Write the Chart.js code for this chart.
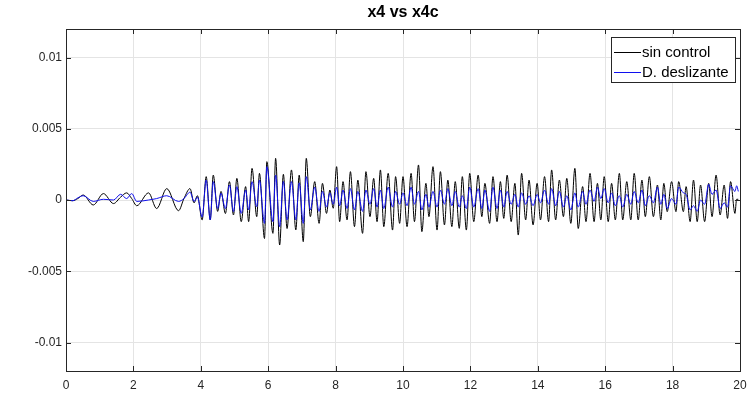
<!DOCTYPE html>
<html>
<head>
<meta charset="utf-8">
<script src="https://cdn.jsdelivr.net/npm/chart.js@4.4.1/dist/chart.umd.min.js"></script>
<style>
  html, body { margin: 0; padding: 0; background: #fff; }
  #wrap { width: 755px; height: 401px; position: relative; }
</style>
</head>
<body>
<div id="wrap"><canvas id="grafico"></canvas></div>
<script>
//datos
const tiempo = [
  0, 0.2, 0.35, 0.51, 0.81, 1.11, 1.41, 1.62, 1.80, 1.95,
  2.10, 2.45, 2.69, 2.99, 3.34, 3.50, 3.68, 3.80, 3.90,
  4.04, 4.16, 4.28, 4.37, 4.50, 4.60, 4.73, 4.85,
  4.97, 5.07, 5.20, 5.33, 5.42, 5.52, 5.66, 5.74,
  5.89, 5.96, 6.14, 6.22, 6.34, 6.45, 6.56, 6.69,
  6.82, 6.92, 7.04, 7.13, 7.25, 7.38, 7.51, 7.61,
  7.73, 7.83, 7.93, 8.03, 8.12, 8.22, 8.34, 8.44,
  8.56, 8.66, 8.80, 8.90, 9.02, 9.13, 9.23, 9.33,
  9.43, 9.56, 9.69, 9.78, 9.90, 10.00, 10.12, 10.24,
  10.34, 10.46, 10.56, 10.68, 10.77, 10.89, 11.01, 11.11,
  11.23, 11.33, 11.45, 11.55, 11.67, 11.76, 11.88, 11.98,
  12.10, 12.23, 12.34, 12.43, 12.57, 12.67, 12.79, 12.89,
  12.99, 13.09, 13.21, 13.32, 13.42, 13.52, 13.64, 13.74,
  13.86, 13.98, 14.08, 14.20, 14.32, 14.41, 14.53, 14.64,
  14.76, 14.86, 14.98, 15.10, 15.20, 15.33, 15.43, 15.55,
  15.67, 15.77, 15.87, 15.97, 16.09, 16.19, 16.30, 16.42,
  16.52, 16.64, 16.76, 16.86, 16.98, 17.09, 17.19, 17.31,
  17.43, 17.55, 17.65, 17.74, 17.84, 17.97, 18.10, 18.18,
  18.32, 18.40, 18.52, 18.62, 18.73, 18.83, 18.95, 19.07,
  19.17, 19.29, 19.41, 19.53, 19.63, 19.72, 19.85, 19.90,
  19.95
];

const sinControl = [
  0, -0.00005, 0.0001, 0.00035, -0.00035, 0.00045, -0.00025, 0.0002, 0.0005, 0.0001,
  -0.0004, 0.0005, -0.0006, 0.0008, -0.00075, 0.0001, 0.0008, -0.0002, 0.0003,
  -0.0014, 0.00164, -0.0014, 0.00175, -0.0008, 0.0006, -0.00095, 0.00129,
  -0.00105, 0.00152, -0.00152, 0.00094, -0.00152, 0.00222, -0.00117, 0.00187,
  -0.0027, 0.00269, -0.00234, 0.00292, -0.00316, 0.0018, -0.002, 0.00211,
  -0.0021, 0.00175, -0.00292, 0.00292, -0.00117, 0.00129, -0.00164, 0.00117,
  -0.00094, 0.0007, -0.00058, 0.00234, -0.00152, 0.00129, -0.0014, 0.00199,
  -0.00187, 0.0014, -0.00234, 0.00199, -0.00117, 0.00152, -0.00152, 0.00211,
  -0.00187, 0.00187, -0.00211, 0.00164, -0.00164, 0.00164, -0.00187, 0.00187,
  -0.00152, 0.00246, -0.00222, 0.00117, -0.00117, 0.00234, -0.00211, 0.00199,
  -0.00175, 0.0014, -0.00187, 0.00129, -0.00199, 0.00164, -0.00211, 0.00187,
  -0.00152, 0.00175, -0.00117, 0.00117, -0.00164, 0.00164, -0.00152, 0.00129,
  -0.00129, 0.00175, -0.00152, 0.00117, -0.00246, 0.00187, -0.0014, 0.0014,
  -0.00175, 0.00117, -0.0014, 0.00164, -0.00152, 0.00211, -0.0014, 0.0014,
  -0.00117, 0.00152, -0.00164, 0.00222, -0.002, 0.00094, -0.00152, 0.00187,
  -0.00152, 0.00117, -0.0014, 0.00164, -0.00152, 0.00117, -0.0014, 0.00187,
  -0.0014, 0.00129, -0.0014, 0.00187, -0.0014, 0.0014, -0.00117, 0.00164,
  -0.00117, 0.00105, -0.0014, 0.00117, -0.00082, 0.00129, -0.00082, 0.00129,
  -0.00082, 0.00094, -0.00152, 0.0014, -0.00152, 0.00105, -0.00152, 0.00117,
  -0.00117, 0.00175, -0.00105, 0.00105, -0.00129, 0.00129, -0.00094, 0.00005,
  0.00005
];

const deslizante = [
  0, -0.00005, 0.00015, 0.0003, -0.0001, 0.00005, 0, 0.0004, 0.0001, 0.00045,
  -0.0001, 0, 0.0001, 0.0003, -0.0001, 0.0001, 0.00055, -0.0001, 0.0002,
  -0.0012, 0.0014, -0.0014, 0.00129, -0.0006, 0.00047, -0.0006, 0.00105,
  -0.00082, 0.00094, -0.00094, 0.0007, -0.0007, 0.00129, -0.00047, 0.0014,
  -0.00164, 0.00234, -0.00152, 0.00175, -0.00187, 0.0013, -0.0014, 0.00129,
  -0.0014, 0.0012, -0.00164, 0.00164, -0.0007, 0.0009, -0.0008, 0.0006,
  -0.0005, 0.0005, -0.0003, 0.0009, -0.0004, 0.0007, -0.0006, 0.0008,
  -0.0007, 0.0006, -0.0008, 0.0007, -0.0003, 0.0008, -0.0005, 0.0007,
  -0.0006, 0.0009, -0.0005, 0.0006, -0.0003, 0.0005, -0.0004, 0.0009,
  -0.0003, 0.0006, -0.0007, 0.0004, -0.0005, 0.0006, -0.0005, 0.0007,
  -0.0003, 0.0008, -0.0004, 0.0006, -0.0005, 0.0003, -0.0006, 0.0009,
  -0.0005, 0.0008, -0.0006, 0.0007, -0.0008, 0.0009, -0.0006, 0.0007,
  -0.0005, 0.0006, -0.0003, 0.0004, -0.0005, 0.0005, -0.0003, 0.0003,
  -0.0004, 0.0004, -0.0002, 0.0007, -0.0003, 0.0008, -0.0004, 0.0006,
  -0.0005, 0.0003, -0.0007, 0.0005, -0.0005, 0.0006, -0.0003, 0.0007,
  -0.0001, 0.0009, 0.0001, 0.0008, -0.0002, 0.0005, -0.0004, 0.0003,
  -0.0005, 0.0004, -0.0003, 0.0006, -0.0002, 0.0007, -0.0004, 0.0003,
  -0.0002, 0.0009, -0.0003, 0.0004, -0.0006, 0.0001, -0.0003, 0.0009,
  0.0005, 0.0004, -0.0007, -0.0004, -0.0008, 0, -0.0003, 0.0011,
  0.0004, 0.0007, -0.0006, -0.0002, -0.0005, 0.001, 0.0006, 0.001,
  0.0006
];

const ticksX = [0, 2, 4, 6, 8, 10, 12, 14, 16, 18, 20];
const ticksY = [-0.01, -0.005, 0, 0.005, 0.01];
const etiquetasY = ['-0.01', '-0.005', '0', '0.005', '0.01'];
const nombresSeries = ['sin control', 'D. deslizante'];
const titulo = 'x4 vs x4c';

const FUENTE = "'Liberation Sans', Arial, sans-serif";
const GRIS_EJE = '#262626';

function puntos(ys) {
  return tiempo.map((t, i) => ({ x: t, y: ys[i] }));
}

//marco, marcas internas, leyenda y titulo al estilo matlab
const marco = {
  id: 'marco',
  afterDatasetsDraw(chart) {
    const { ctx, chartArea: a, scales } = chart;
    ctx.save();
    ctx.strokeStyle = GRIS_EJE;
    ctx.lineWidth = 1;
    ctx.beginPath();
    ticksX.forEach(v => {
      const px = Math.round(scales.x.getPixelForValue(v)) + 0.5;
      ctx.moveTo(px, a.bottom); ctx.lineTo(px, a.bottom - 5);
      ctx.moveTo(px, a.top); ctx.lineTo(px, a.top + 5);
    });
    ticksY.forEach(v => {
      const py = Math.round(scales.y.getPixelForValue(v)) + 0.5;
      ctx.moveTo(a.left, py); ctx.lineTo(a.left + 5, py);
      ctx.moveTo(a.right, py); ctx.lineTo(a.right - 5, py);
    });
    ctx.stroke();
    ctx.strokeRect(Math.round(a.left) + 0.5, Math.round(a.top) + 0.5,
      Math.round(a.right - a.left), Math.round(a.bottom - a.top));

    //leyenda
    const lx = 611, ly = 37, lw = 124, lh = 45;
    ctx.fillStyle = '#fff';
    ctx.fillRect(lx, ly, lw, lh);
    ctx.strokeRect(lx + 0.5, ly + 0.5, lw, lh);
    chart.data.datasets.forEach((ds, i) => {
      const y = ly + 15.5 + i * 20;
      ctx.strokeStyle = ds.borderColor;
      ctx.beginPath();
      ctx.moveTo(lx + 3, y); ctx.lineTo(lx + 30, y);
      ctx.stroke();
      ctx.fillStyle = '#000';
      ctx.font = '15px ' + FUENTE;
      ctx.textBaseline = 'middle';
      ctx.textAlign = 'left';
      ctx.fillText(nombresSeries[i], lx + 31, y + 0.5);
    });

    ctx.fillStyle = '#000';
    ctx.font = 'bold 16px ' + FUENTE;
    ctx.textAlign = 'center';
    ctx.textBaseline = 'middle';
    ctx.fillText(titulo, (a.left + a.right) / 2, 13);
    ctx.restore();
  }
};

const ctx = document.getElementById('grafico').getContext('2d');
const grafico = new Chart(ctx, {
  type: 'line',
  data: {
    datasets: [
      {
        label: nombresSeries[0],
        data: puntos(sinControl),
        borderColor: '#000000',
        borderWidth: 1,
        pointRadius: 0,
        cubicInterpolationMode: 'monotone',
        order: 2
      },
      {
        label: nombresSeries[1],
        data: puntos(deslizante),
        borderColor: '#1010ee',
        borderWidth: 1,
        pointRadius: 0,
        cubicInterpolationMode: 'monotone',
        order: 1
      }
    ]
  },
  options: {
    responsive: true,
    maintainAspectRatio: false,
    animation: false,
    layout: { padding: { left: 0, right: 15, top: 29, bottom: 0 } },
    plugins: {
      legend: { display: false },
      title: { display: false },
      tooltip: { enabled: false }
    },
    scales: {
      x: {
        type: 'linear',
        min: 0,
        max: 20,
        afterBuildTicks: s => { s.ticks = ticksX.map(v => ({ value: v })); },
        afterFit: s => { s.height = 30; },
        border: { display: false },
        grid: { color: '#e4e4e4', drawTicks: false },
        ticks: {
          padding: 7,
          maxRotation: 0,
          color: GRIS_EJE,
          font: { family: FUENTE, size: 12 },
          callback: v => String(v)
        }
      },
      y: {
        type: 'linear',
        min: -0.012,
        max: 0.012,
        afterBuildTicks: s => { s.ticks = ticksY.map(v => ({ value: v })); },
        afterFit: s => { s.width = 66; },
        border: { display: false },
        grid: { color: '#e4e4e4', drawTicks: false },
        ticks: {
          padding: 4,
          color: GRIS_EJE,
          font: { family: FUENTE, size: 12 },
          callback: (v) => {
            const i = ticksY.findIndex(t => Math.abs(t - v) < 1e-9);
            return i >= 0 ? etiquetasY[i] : '';
          }
        }
      }
    }
  },
  plugins: [marco]
});
</script>
</body>
</html>
